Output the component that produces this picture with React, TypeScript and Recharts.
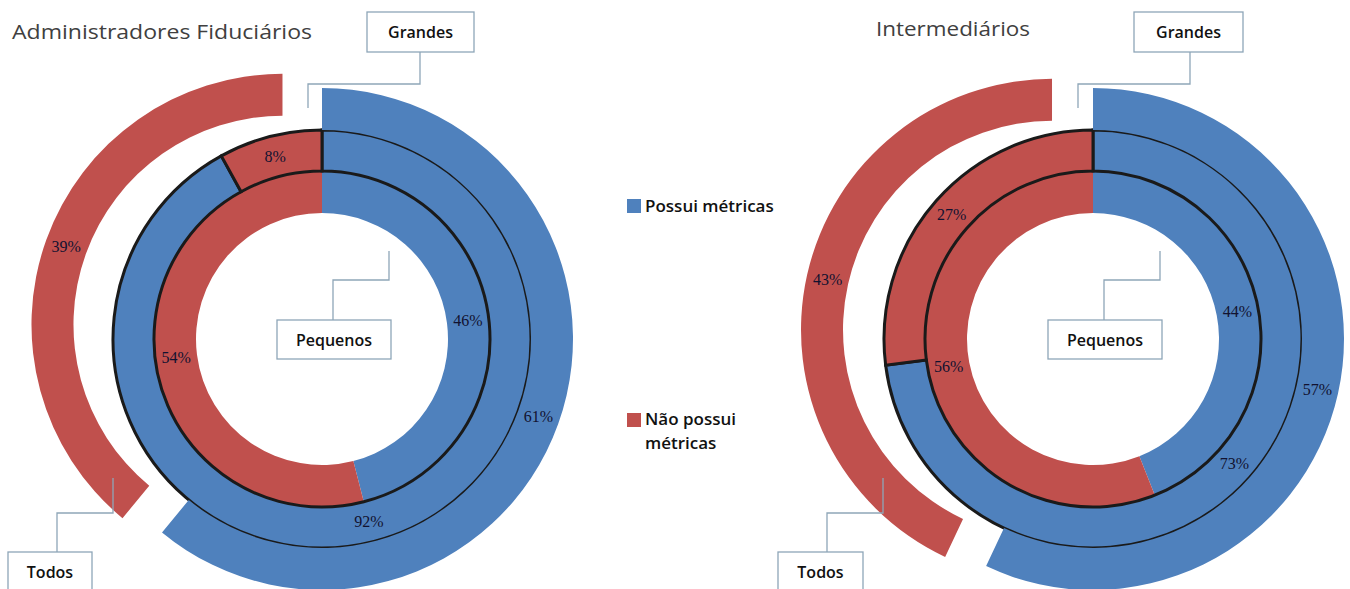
import React from "react";
import { PieChart, Pie, Cell } from "recharts";

const seriesNames = ["Possui métricas", "Não possui métricas"];
const seriesColors = ["#4F81BD", "#C0504D"];

const ringLabels = ["Pequenos", "Grandes", "Todos"];

const chartTitles = ["Administradores Fiduciários", "Intermediários"];

const adminPequenos = [46, 54];
const adminGrandes = [92, 8];
const adminTodos = [61, 39];

const interPequenos = [44, 56];
const interGrandes = [73, 27];
const interTodos = [57, 43];

const W = 1350;
const H = 589;
const RAD = Math.PI / 180;
const R_IN0 = 126;
const R_IN1 = 168;
const R_MID1 = 209;
const R_OUT1 = 251;
const EXPLODE = 42;
const LABEL_FONT = "'Liberation Serif', 'DejaVu Serif', serif";
const UI_FONT = "'Open Sans', Lato, sans-serif";

type Donut = {
  cx: number;
  cy: number;
  pequenos: number[];
  grandes: number[];
  todos: number[];
};

const donuts: Donut[] = [
  { cx: 322, cy: 339, pequenos: adminPequenos, grandes: adminGrandes, todos: adminTodos },
  { cx: 1093, cy: 339, pequenos: interPequenos, grandes: interGrandes, todos: interTodos },
];

const toData = (vals: number[], visible: boolean[]) =>
  vals.map((v, i) => ({ name: seriesNames[i], value: v, visible: visible[i] }));

const renderLabel = (props: any) => {
  const { cx, cy, midAngle, innerRadius, outerRadius, value, payload, index } = props;
  const vis = payload && payload.visible !== undefined ? payload.visible : true;
  if (!vis) return null;
  const r = (innerRadius + outerRadius) / 2;
  const x = cx + r * Math.cos(-midAngle * RAD);
  const y = cy + r * Math.sin(-midAngle * RAD);
  return (
    <text
      key={`lbl-${index}`}
      x={x}
      y={y}
      textAnchor="middle"
      dominantBaseline="central"
      fontFamily={LABEL_FONT}
      fontSize={16}
      fill="#121230"
    >
      {`${value}%`}
    </text>
  );
};

function buildPies(d: Donut, k: number) {
  const total = d.todos.reduce((a, b) => a + b, 0);
  const midFrac = (d.todos[0] + d.todos[1] / 2) / total;
  const theta = midFrac * 360 * RAD;
  const ox = EXPLODE * Math.sin(theta);
  const oy = -EXPLODE * Math.cos(theta);
  const common = {
    dataKey: "value",
    startAngle: 90,
    endAngle: -270,
    isAnimationActive: false,
    labelLine: false,
    label: renderLabel,
    paddingAngle: 0,
  } as any;
  return [
    <Pie
      key={`in-${k}`}
      {...common}
      data={toData(d.pequenos, [true, true])}
      cx={d.cx}
      cy={d.cy}
      innerRadius={R_IN0}
      outerRadius={R_IN1}
      stroke="none"
    >
      {d.pequenos.map((_, i) => (
        <Cell key={i} fill={seriesColors[i]} stroke="none" />
      ))}
    </Pie>,
    <Pie
      key={`mid-${k}`}
      {...common}
      data={toData(d.grandes, [true, true])}
      cx={d.cx}
      cy={d.cy}
      innerRadius={R_IN1}
      outerRadius={R_MID1}
    >
      {d.grandes.map((_, i) => (
        <Cell key={i} fill={seriesColors[i]} stroke="#1a1a1a" strokeWidth={3} />
      ))}
    </Pie>,
    <Pie
      key={`outA-${k}`}
      {...common}
      data={toData(d.todos, [true, false])}
      cx={d.cx}
      cy={d.cy}
      innerRadius={R_MID1}
      outerRadius={R_OUT1}
      stroke="none"
    >
      {d.todos.map((_, i) => (
        <Cell key={i} fill={i === 0 ? seriesColors[0] : "none"} stroke="none" />
      ))}
    </Pie>,
    <Pie
      key={`outB-${k}`}
      {...common}
      data={toData(d.todos, [false, true])}
      cx={d.cx + ox}
      cy={d.cy + oy}
      innerRadius={R_MID1}
      outerRadius={R_OUT1}
      stroke="none"
    >
      {d.todos.map((_, i) => (
        <Cell key={i} fill={i === 1 ? seriesColors[1] : "none"} stroke="none" />
      ))}
    </Pie>,
  ];
}

const BOX = "#8ea6b8";

function Callout({
  box,
  line,
  text,
}: {
  box: [number, number, number, number];
  line: [number, number][];
  text: string;
}) {
  const [x, y, w, h] = box;
  return (
    <g>
      <polyline
        points={line.map((p) => p.join(",")).join(" ")}
        fill="none"
        stroke={BOX}
        strokeWidth={1.3}
      />
      <rect x={x} y={y} width={w} height={h} fill="#fff" stroke={BOX} strokeWidth={1.3} />
      <text
        x={x + w / 2}
        y={y + h / 2}
        textAnchor="middle"
        dominantBaseline="central"
        fontFamily={UI_FONT}
        fontSize={16}
        fontWeight={600}
        fill="#111"
      >
        {text}
      </text>
    </g>
  );
}

export default function App() {
  return (
    <div style={{ position: "absolute", left: 0, top: 0, width: W, height: H, background: "#fff" }}>
      <PieChart width={W} height={H} margin={{ top: 0, right: 0, bottom: 0, left: 0 }}>
        {buildPies(donuts[0], 0)}
        {buildPies(donuts[1], 1)}
      </PieChart>
      <svg
        width={W}
        height={H}
        style={{ position: "absolute", left: 0, top: 0, pointerEvents: "none" }}
      >
        <text x={12} y={39} fontFamily={UI_FONT} fontSize={20} fill="#404040" textLength={300} lengthAdjust="spacingAndGlyphs">
          {chartTitles[0]}
        </text>
        <text x={876} y={36} fontFamily={UI_FONT} fontSize={20} fill="#404040" textLength={154} lengthAdjust="spacingAndGlyphs">
          {chartTitles[1]}
        </text>

        <Callout box={[367, 12, 107, 40]} line={[[420, 52], [420, 84], [308, 84], [308, 108]]} text={ringLabels[1]} />
        <Callout box={[277, 320, 114, 39]} line={[[333, 320], [333, 280], [389, 280], [389, 251]]} text={ringLabels[0]} />
        <Callout box={[8, 552, 84, 40]} line={[[57, 552], [57, 513], [113, 513], [113, 478]]} text={ringLabels[2]} />

        <Callout box={[1134, 12, 109, 40]} line={[[1190, 52], [1190, 84], [1078, 84], [1078, 108]]} text={ringLabels[1]} />
        <Callout box={[1048, 320, 114, 39]} line={[[1104, 320], [1104, 280], [1160, 280], [1160, 251]]} text={ringLabels[0]} />
        <Callout box={[778, 552, 85, 40]} line={[[827, 552], [827, 513], [883, 513], [883, 478]]} text={ringLabels[2]} />

        <rect x={627} y={199} width={14} height={14} fill={seriesColors[0]} />
        <text x={645} y={212} fontFamily={UI_FONT} fontSize={17} fontWeight={600} fill="#111">
          {seriesNames[0]}
        </text>
        <rect x={627} y={413} width={14} height={14} fill={seriesColors[1]} />
        <text x={645} y={425} fontFamily={UI_FONT} fontSize={17} fontWeight={600} fill="#111">
          {seriesNames[1].split(" ").slice(0, 2).join(" ")}
        </text>
        <text x={645} y={449} fontFamily={UI_FONT} fontSize={17} fontWeight={600} fill="#111">
          {seriesNames[1].split(" ").slice(2).join(" ")}
        </text>
      </svg>
    </div>
  );
}
